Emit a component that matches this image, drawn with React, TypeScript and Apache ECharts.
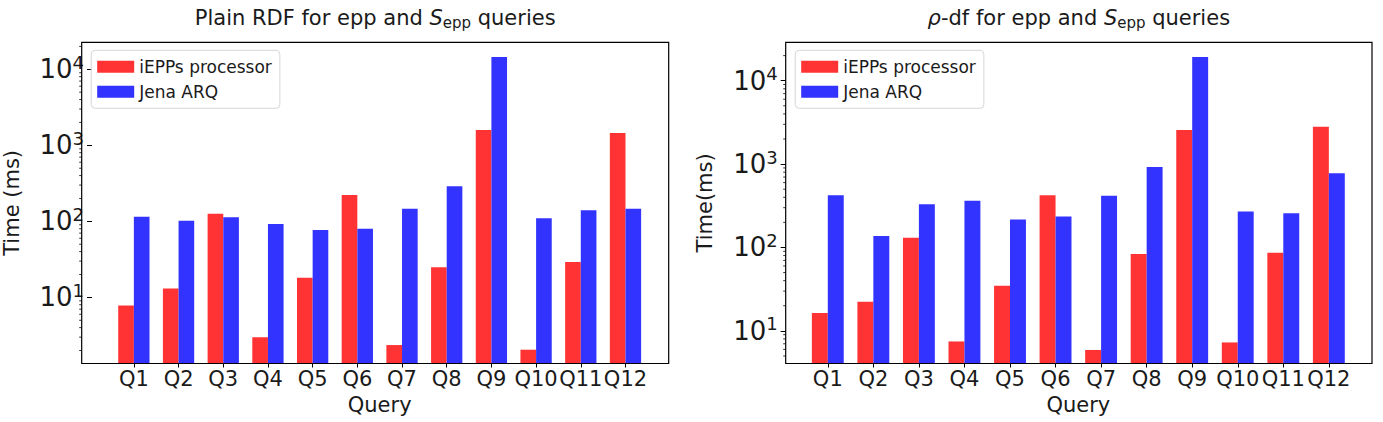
import React, { useEffect, useRef } from "react";
import * as echarts from "echarts";

// Query labels shared by both panels
const queries = ["Q1", "Q2", "Q3", "Q4", "Q5", "Q6", "Q7", "Q8", "Q9", "Q10", "Q11", "Q12"];

// Plain RDF timings (ms)
const plainIepps = [7.8, 13.1, 126, 2.98, 18.1, 222, 2.36, 25, 1590, 2.05, 29.1, 1450];
const plainJena = [115, 102, 113, 92, 77, 80, 146, 290, 14500, 110, 140, 146];

// rho-df timings (ms)
const rhoIepps = [16.4, 22.3, 131, 7.46, 34.7, 422, 5.9, 83.3, 2570, 7.26, 86.3, 2810];
const rhoJena = [422, 137, 329, 364, 217, 236, 417, 923, 19300, 271, 257, 776];

// Log-axis extents of each panel
const plainRange = [1.35, 22650];
const rhoRange = [4.06, 28900];

// Minor tick mantissas and decades (log axis minor ticks)
const minorMantissas = [2, 3, 4, 5, 6, 7, 8, 9];
const minorDecades = [1, 10, 100, 1000, 10000];

const seriesNames = ["iEPPs processor", "Jena ARQ"];
const RED = "#ff3333";
const BLUE = "#3333ff";
const FONT = "DejaVu Sans";
const INK = "#1a1a1a";

type Box = { x: number; y: number; w: number; h: number };

const minorTicksIn = (range: number[]) =>
  minorDecades
    .flatMap((d) => minorMantissas.map((m) => m * d))
    .filter((v) => v > range[0] && v < range[1]);

const powerLabel = (v: number) => {
  const e = Math.round(Math.log10(v));
  if (Math.abs(v - Math.pow(10, e)) / v > 1e-6) return "";
  return `{b|10}{s|${e}}`;
};

export default function App() {
  const ref = useRef<HTMLDivElement>(null);

  useEffect(() => {
    document.body.style.margin = "0";
    const chart = echarts.init(ref.current!, null, { renderer: "svg" });

    const boxes: Box[] = [
      { x: 81.7, y: 42.3, w: 587, h: 321.2 },
      { x: 785.7, y: 42.3, w: 586.3, h: 321.2 },
    ];
    const step = 45.55;
    const firstCenter = [124, 827.8];
    const ranges = [plainRange, rhoRange];
    const yNames = ["Time (ms)", "Time(ms)"];
    const dataSets = [
      [plainIepps, plainJena],
      [rhoIepps, rhoJena],
    ];
    const titles = [
      "Plain RDF for epp and {i|S}{sub|epp} queries",
      "{i|ρ}-df for epp and {i|S}{sub|epp} queries",
    ];

    const grids: any[] = [];
    const xAxes: any[] = [];
    const yAxes: any[] = [];
    const series: any[] = [];
    const legends: any[] = [];
    const graphics: any[] = [];

    boxes.forEach((box, i) => {
      const gridLeft = firstCenter[i] - step / 2;
      grids.push({
        left: gridLeft,
        top: box.y,
        width: step * queries.length,
        height: box.h,
      });
      xAxes.push({
        type: "category",
        gridIndex: i,
        data: queries,
        axisLine: { show: false },
        axisTick: { show: true, interval: 0, alignWithLabel: true, length: 4, lineStyle: { color: "#000" } },
        axisLabel: { interval: 0, color: INK, fontFamily: FONT, fontSize: 21, margin: 5 },
        name: "Query",
        nameLocation: "middle",
        nameGap: 31,
        nameTextStyle: { color: INK, fontFamily: FONT, fontSize: 21 },
      });
      yAxes.push({
        type: "log",
        logBase: 10,
        gridIndex: i,
        min: ranges[i][0],
        max: ranges[i][1],
        offset: gridLeft - box.x,
        splitLine: { show: false },
        axisLine: { show: false },
        axisTick: { show: true, length: 5, lineStyle: { color: "#000" } },
        axisLabel: {
          showMinLabel: false,
          showMaxLabel: false,
          margin: 8,
          formatter: powerLabel,
          rich: {
            b: { fontFamily: FONT, fontSize: 26, color: INK },
            s: { fontFamily: FONT, fontSize: 18, color: INK, padding: [0, 0, 14, 0] },
          },
        },
        name: yNames[i],
        nameLocation: "middle",
        nameGap: 70,
        nameTextStyle: { color: INK, fontFamily: FONT, fontSize: 21 },
      });
      seriesNames.forEach((name, k) => {
        series.push({
          type: "bar",
          name,
          xAxisIndex: i,
          yAxisIndex: i,
          data: dataSets[i][k],
          barWidth: "35%",
          barGap: "0%",
          itemStyle: { color: k === 0 ? RED : BLUE },
          clip: true,
        });
      });
      // Minor ticks on the log axis, placed through the axis scale
      series.push({
        type: "custom",
        name: "minor",
        xAxisIndex: i,
        yAxisIndex: i,
        clip: false,
        silent: true,
        data: minorTicksIn(ranges[i]).map((v) => [0, v]),
        renderItem: (_p: any, api: any) => {
          const y = api.coord([0, api.value(1)])[1];
          return {
            type: "line",
            shape: { x1: box.x - 2.5, y1: y, x2: box.x, y2: y },
            style: { stroke: "#000", lineWidth: 0.8 },
          };
        },
      });
      legends.push({
        orient: "vertical",
        left: box.x + 9.5,
        top: box.y + 8,
        data: seriesNames,
        icon: "rect",
        itemWidth: 37,
        itemHeight: 12,
        itemGap: 8,
        padding: [8, 8, 8, 6],
        borderColor: "#d6d6d6",
        borderWidth: 1,
        borderRadius: 4,
        backgroundColor: "rgba(255,255,255,0.8)",
        textStyle: { fontFamily: FONT, fontSize: 17, color: INK },
        selectedMode: false,
      });
      graphics.push({
        type: "rect",
        z: 100,
        shape: { x: box.x, y: box.y, width: box.w, height: box.h },
        style: { fill: "none", stroke: "#000", lineWidth: 1.2 },
      });
      graphics.push({
        type: "text",
        x: box.x + box.w / 2,
        y: 18,
        style: {
          text: titles[i],
          align: "center",
          verticalAlign: "middle",
          fontFamily: FONT,
          fontSize: 21,
          fill: INK,
          rich: {
            i: { fontFamily: FONT, fontSize: 21, fontStyle: "italic", fill: INK },
            sub: { fontFamily: FONT, fontSize: 15, fill: INK, padding: [9, 0, 0, 0] },
          },
        },
      });
    });

    chart.setOption({
      animation: false,
      backgroundColor: "#fff",
      grid: grids,
      xAxis: xAxes,
      yAxis: yAxes,
      series,
      legend: legends,
      graphic: graphics,
    });

    return () => chart.dispose();
  }, []);

  return <div ref={ref} style={{ width: 1383, height: 422 }} />;
}
